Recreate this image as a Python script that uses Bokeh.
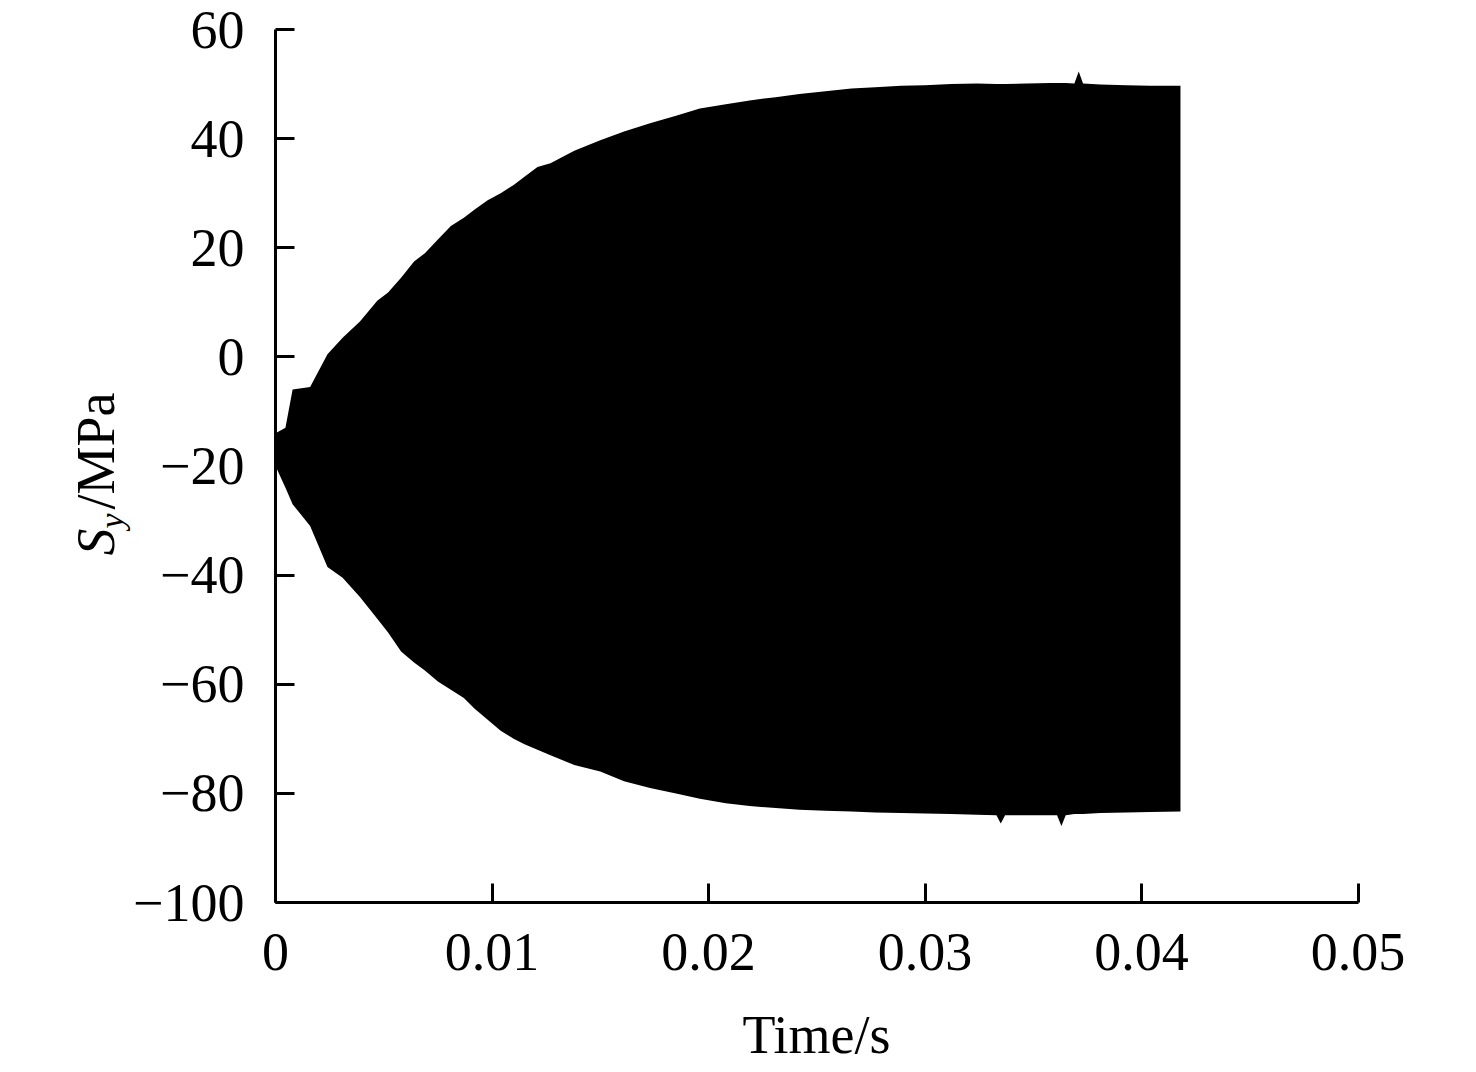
import math
from bokeh.plotting import figure
from bokeh.models import Label, FixedTicker, Range1d
from bokeh.embed import file_html
from bokeh.resources import INLINE

# Envelope of the S_y stress signal (MPa vs s)
time_s = [0.0000, 0.00046, 0.00079, 0.0016, 0.0024, 0.0031, 0.0039, 0.0047, 0.0052,
          0.0058, 0.0064, 0.0069, 0.0075, 0.0081, 0.0087, 0.0092, 0.0098, 0.0104,
          0.0110, 0.0115, 0.0121, 0.0127, 0.0138, 0.0150, 0.0161, 0.0173, 0.0185,
          0.0196, 0.0208, 0.0219, 0.0231, 0.0242, 0.0254, 0.0266, 0.0277, 0.0289,
          0.0300, 0.0312, 0.0324, 0.0333, 0.0335, 0.0337, 0.0347, 0.0358, 0.0361,
          0.0363, 0.0365, 0.0369, 0.0371, 0.0373, 0.0381, 0.0393, 0.0404, 0.0418]
upper_mpa = [-14.0, -13.0, -6.0, -5.5, 0.5, 3.5, 6.5, 10.3, 11.8,
             14.5, 17.5, 19.0, 21.5, 24.0, 25.5, 27.0, 28.7, 30.0,
             31.5, 33.0, 34.8, 35.5, 37.8, 39.7, 41.3, 42.8, 44.2,
             45.5, 46.3, 47.0, 47.6, 48.2, 48.7, 49.2, 49.4, 49.7,
             49.8, 50.0, 50.1, 50.0, 50.0, 50.0, 50.1, 50.2, 50.2,
             50.2, 50.2, 50.1, 52.3, 50.1, 49.9, 49.8, 49.7, 49.7]
lower_mpa = [-20.0, -24.0, -27.0, -31.0, -38.5, -40.5, -44.0, -48.0, -50.5,
             -54.0, -56.0, -57.5, -59.5, -61.0, -62.5, -64.5, -66.5, -68.5,
             -70.0, -71.0, -72.0, -73.0, -74.8, -76.0, -77.8, -79.0, -80.0,
             -81.0, -81.8, -82.3, -82.7, -83.0, -83.2, -83.3, -83.5, -83.6,
             -83.7, -83.8, -83.9, -84.0, -85.5, -84.0, -84.0, -84.0, -84.0,
             -86.0, -84.0, -83.8, -83.8, -83.8, -83.6, -83.5, -83.4, -83.3]

x_ticks = [0, 0.01, 0.02, 0.03, 0.04, 0.05]
x_tick_labels = ["0", "0.01", "0.02", "0.03", "0.04", "0.05"]
y_ticks = [60, 40, 20, 0, -20, -40, -60, -80, -100]
y_tick_labels = ["60", "40", "20", "0", "\u221220", "\u221240", "\u221260", "\u221280", "\u2212100"]

XMIN, XMAX, YMIN, YMAX = 0.0, 0.05, -100.0, 60.0

FONT = "Liberation Serif"
FS = "54px"

# page geometry (pixels): canvas size and where the axes box sits
CANVAS_W, CANVAS_H = 1458, 1066
AX_LEFT, AX_RIGHT, AX_TOP, AX_BOTTOM = 275.0, 1357.5, 29.0, 902.0
sx = (XMAX - XMIN) / (AX_RIGHT - AX_LEFT)
sy = (YMAX - YMIN) / (AX_BOTTOM - AX_TOP)

def px_to_x(px):
    return XMIN + (px - AX_LEFT) * sx

def py_to_y(py):
    return YMAX - (py - AX_TOP) * sy

p = figure(frame_width=CANVAS_W, frame_height=CANVAS_H, min_border=0,
           x_range=Range1d(px_to_x(0), px_to_x(CANVAS_W)),
           y_range=Range1d(py_to_y(CANVAS_H), py_to_y(0)),
           output_backend="svg", toolbar_location=None)
p.outline_line_color = None
p.grid.visible = False
p.background_fill_color = "white"
p.border_fill_color = "white"

p.varea(x=time_s, y1=lower_mpa, y2=upper_mpa, fill_color="black")

xa, ya = p.xaxis[0], p.yaxis[0]
xa.fixed_location = YMIN
ya.fixed_location = XMIN
xa.bounds = (XMIN, XMAX)
ya.bounds = (YMIN, YMAX)
for ax in (xa, ya):
    ax.axis_line_width = 3
    ax.axis_line_color = "black"
    ax.major_tick_line_width = 3
    ax.major_tick_line_color = "black"
    ax.major_tick_in = 19
    ax.major_tick_out = 0
    ax.minor_tick_line_color = None
    ax.major_label_text_font = FONT
    ax.major_label_text_font_size = FS
    ax.major_label_text_color = "black"

xa.ticker = FixedTicker(ticks=x_ticks)
xa.major_label_overrides = {t: l for t, l in zip(x_ticks, x_tick_labels)}
ya.ticker = FixedTicker(ticks=y_ticks)
ya.major_label_overrides = {t: l for t, l in zip(y_ticks, y_tick_labels)}
xa.major_label_standoff = 31
ya.major_label_standoff = 31

# x-axis title
p.add_layout(Label(x=px_to_x(816), y=py_to_y(1034), text="Time/s",
                   text_font=FONT, text_font_size=FS, text_font_style="normal",
                   text_baseline="alphabetic", text_align="center", text_color="black"))

# y-axis title S_y/MPa from rotated pieces
ang = math.pi / 2
p.add_layout(Label(x=px_to_x(95), y=py_to_y(555), text="S", angle=ang,
                   text_font=FONT, text_font_size=FS, text_font_style="italic",
                   text_baseline="alphabetic", text_align="left", text_color="black"))
p.add_layout(Label(x=px_to_x(111), y=py_to_y(528), text="y", angle=ang,
                   text_font=FONT, text_font_size="34px", text_font_style="italic",
                   text_baseline="alphabetic", text_align="left", text_color="black"))
p.add_layout(Label(x=px_to_x(95), y=py_to_y(509), text="/MPa", angle=ang,
                   text_font=FONT, text_font_size=FS, text_font_style="normal",
                   text_baseline="alphabetic", text_align="left", text_color="black"))

open("out.html", "w").write(file_html(p, INLINE))
